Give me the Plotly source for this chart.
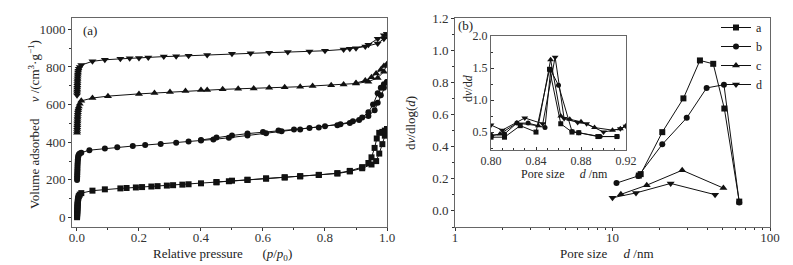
import plotly.graph_objects as go

W, H = 793, 265

# ---------------- Panel (a): N2 isotherms ----------------
LOW_P = [0.0003, 0.0005, 0.0007, 0.0009, 0.0011, 0.0013, 0.0015, 0.0017, 0.0019,
         0.0022, 0.0026, 0.003, 0.0036, 0.0045, 0.006, 0.009, 0.014]

a_ads_p = LOW_P + [0.05, 0.09, 0.14, 0.16, 0.19, 0.21, 0.24, 0.26, 0.29, 0.31, 0.34, 0.36,
                   0.40, 0.45, 0.49, 0.55, 0.61, 0.67, 0.72, 0.78, 0.84, 0.88, 0.92, 0.95,
                   0.965, 0.975, 0.985, 0.993, 1.0]
a_ads_v = [2, 10, 18, 26, 34, 42, 50, 58, 66, 74, 82, 90, 98, 106, 114, 122, 130,
           143, 150, 155, 157, 160, 162, 165, 167, 170, 172, 175, 177, 182, 187, 193, 200,
           207, 213, 219, 226, 234, 245, 262, 282, 300, 340, 390, 435, 470]
a_des_p = [1.0, 0.993, 0.985, 0.975, 0.967, 0.96, 0.95, 0.94, 0.92, 0.88, 0.84, 0.78,
           0.72, 0.67, 0.61, 0.55, 0.5, 0.45]
a_des_v = [470, 462, 455, 450, 420, 370, 320, 290, 268, 248, 236, 227, 220, 214, 208,
           201, 196, 189]

b_ads_p = LOW_P + [0.04, 0.09, 0.13, 0.18, 0.22, 0.27, 0.32, 0.36, 0.40, 0.44, 0.49, 0.55,
                   0.61, 0.66, 0.72, 0.78, 0.84, 0.88, 0.91, 0.94, 0.96, 0.97, 0.98, 0.99, 1.0]
b_ads_v = [200, 210, 220, 230, 240, 250, 260, 270, 280, 290, 300, 310, 320, 328, 335, 340, 345,
           358, 367, 373, 380, 385, 391, 398, 404, 410, 415, 424, 436, 448, 458, 468, 478,
           490, 502, 518, 540, 570, 610, 650, 690, 720]
b_des_p = [1.0, 0.99, 0.98, 0.97, 0.955, 0.94, 0.92, 0.89, 0.85, 0.8, 0.75, 0.7, 0.65, 0.6,
           0.55, 0.5, 0.45, 0.4]
b_des_v = [720, 708, 690, 660, 600, 560, 532, 512, 496, 485, 476, 468, 462, 455, 446, 436,
           425, 412]

c_ads_p = LOW_P + [0.05, 0.1, 0.2, 0.25, 0.3, 0.35, 0.4, 0.42, 0.47, 0.52, 0.57, 0.62, 0.67,
                   0.72, 0.76, 0.82, 0.86, 0.9, 0.94, 0.97, 0.99, 1.0]
c_ads_v = [450, 460, 470, 480, 490, 500, 510, 520, 530, 540, 550, 560, 570, 580, 590, 605, 620,
           635, 645, 657, 662, 667, 672, 677, 678, 681, 684, 686, 689, 692, 695, 699, 703,
           707, 712, 722, 742, 775, 815]
c_des_p = [1.0, 0.99, 0.98, 0.965, 0.95, 0.93, 0.9]
c_des_v = [815, 805, 785, 765, 745, 728, 715]

d_ads_p = LOW_P + [0.05, 0.09, 0.14, 0.17, 0.2, 0.23, 0.28, 0.32, 0.36, 0.42, 0.5, 0.56, 0.62,
                   0.68, 0.75, 0.8, 0.86, 0.88, 0.93, 0.97, 0.99, 1.0]
d_ads_v = [650, 660, 670, 680, 690, 700, 710, 720, 730, 740, 750, 760, 770, 780, 790, 800, 810,
           830, 838, 843, 846, 848, 850, 855, 857, 860, 864, 870, 873, 876, 879, 882, 886,
           893, 897, 908, 925, 950, 975]
d_des_p = [1.0, 0.99, 0.97, 0.94, 0.9]
d_des_v = [975, 968, 950, 918, 900]

# ---------------- Panel (b): pore size distribution ----------------
a_pore_d = [14.7, 15.1, 20.7, 28.2, 35.9, 43.6, 51.3, 63.8]
a_pore_v = [0.22, 0.229, 0.49, 0.70, 0.936, 0.915, 0.637, 0.058]
b_pore_d = [10.6, 14.6, 20.7, 29.6, 39.6, 51.0, 63.8]
b_pore_v = [0.173, 0.218, 0.414, 0.579, 0.765, 0.785, 0.052]
c_pore_d = [11.3, 16.5, 27.7, 50.6]
c_pore_v = [0.103, 0.16, 0.253, 0.142]
d_pore_d = [10.0, 14.1, 23.4, 44.8]
d_pore_v = [0.082, 0.112, 0.171, 0.101]

# inset (micropores)
a_in_d = [0.800, 0.812, 0.826, 0.840, 0.852, 0.862, 0.872, 0.878, 0.895, 0.912]
a_in_v = [0.42, 0.42, 0.60, 0.50, 1.48, 0.63, 0.50, 0.49, 0.43, 0.43]
b_in_d = [0.800, 0.812, 0.823, 0.833, 0.848, 0.853, 0.860, 0.872, 0.878, 0.897, 0.912]
b_in_v = [0.45, 0.47, 0.64, 0.64, 0.57, 1.47, 1.23, 0.51, 0.49, 0.43, 0.43]
c_in_d = [0.800, 0.808, 0.823, 0.842, 0.853, 0.862, 0.870, 0.880, 0.892, 0.908, 0.915, 0.920]
c_in_v = [0.44, 0.47, 0.64, 0.60, 1.63, 0.75, 0.70, 0.66, 0.57, 0.53, 0.55, 0.60]
d_in_d = [0.800, 0.810, 0.830, 0.846, 0.857, 0.865, 0.877, 0.885, 0.900, 0.915, 0.920]
d_in_v = [0.61, 0.53, 0.72, 0.63, 1.67, 0.71, 0.65, 0.63, 0.50, 0.55, 0.59]

names = ["a", "b", "c", "d"]
symbols = ["square", "circle", "triangle-up", "triangle-down"]
msize = [6, 6, 7, 7]

FONT = "Liberation Serif, Times New Roman, serif"
BLACK = "#111"

fig = go.Figure()

iso = [(a_ads_p, a_ads_v, a_des_p, a_des_v), (b_ads_p, b_ads_v, b_des_p, b_des_v),
       (c_ads_p, c_ads_v, c_des_p, c_des_v), (d_ads_p, d_ads_v, d_des_p, d_des_v)]
for i, (ap, av, dp, dv) in enumerate(iso):
    for xs, ys in ((ap, av), (dp, dv)):
        fig.add_trace(go.Scatter(x=xs, y=ys, mode="lines+markers", xaxis="x", yaxis="y",
                                 line=dict(color=BLACK, width=1),
                                 marker=dict(symbol=symbols[i], size=msize[i], color=BLACK),
                                 showlegend=False))

pores = [(a_pore_d, a_pore_v), (b_pore_d, b_pore_v), (c_pore_d, c_pore_v), (d_pore_d, d_pore_v)]
for i, (xs, ys) in enumerate(pores):
    fig.add_trace(go.Scatter(x=xs, y=ys, mode="lines+markers", xaxis="x2", yaxis="y2",
                             name=names[i], line=dict(color=BLACK, width=1),
                             marker=dict(symbol=symbols[i], size=msize[i], color=BLACK),
                             showlegend=True))

insets = [(a_in_d, a_in_v), (b_in_d, b_in_v), (c_in_d, c_in_v), (d_in_d, d_in_v)]
for i, (xs, ys) in enumerate(insets):
    fig.add_trace(go.Scatter(x=xs, y=ys, mode="lines+markers", xaxis="x3", yaxis="y3",
                             line=dict(color=BLACK, width=1),
                             marker=dict(symbol=symbols[i], size=msize[i] - 1, color=BLACK),
                             showlegend=False))


def px(x):
    return x / W


def py(y):
    return 1 - y / H


def axis_common(fs=13, ticks="outside", ticklen=3):
    return dict(showgrid=False, zeroline=False, showline=True, mirror=True,
                linecolor="#666", linewidth=1, ticks=ticks, ticklen=ticklen,
                tickcolor="#333", tickfont=dict(family=FONT, size=fs, color="#333"),
                automargin=False)


MINOR_OUT = dict(ticks="outside", ticklen=2, tickcolor="#333")
MINOR_IN = dict(ticks="inside", ticklen=2, tickcolor="#333")

fig.update_layout(
    width=W, height=H, template="none",
    margin=dict(l=0, r=0, t=0, b=0),
    paper_bgcolor="white", plot_bgcolor="white",
    font=dict(family=FONT, size=13, color="#222"),
    xaxis=dict(domain=[px(72), px(387)], range=[-0.016, 1.0], dtick=0.2, tickformat=".1f",
               minor=dict(dtick=0.1, **MINOR_OUT), ticklabelstandoff=-5,
               anchor="y", **axis_common()),
    yaxis=dict(domain=[py(227), py(18)], range=[-50, 1060], dtick=200,
               minor=dict(dtick=100, **MINOR_OUT),
               anchor="x", **axis_common()),
    xaxis2=dict(domain=[px(455), px(770)], type="log", range=[0, 2],
                tickvals=[1, 10, 100], ticktext=["1", "10", "100"], ticklabelstandoff=-5,
                minor=dict(tickvals=[2, 3, 4, 5, 6, 7, 8, 9, 20, 30, 40, 50, 60, 70, 80, 90],
                           **MINOR_OUT),
                anchor="y2", **axis_common()),
    yaxis2=dict(domain=[py(227), py(18)], range=[-0.1, 1.2], dtick=0.2, tickformat=".1f",
                minor=dict(dtick=0.1, **MINOR_OUT),
                anchor="x2", **axis_common()),
    xaxis3=dict(domain=[px(491), px(626)], range=[0.80, 0.92],
                tickvals=[0.80, 0.84, 0.88, 0.92], tickformat=".2f",
                minor=dict(dtick=0.01, **MINOR_IN),
                anchor="y3", **axis_common(12, "inside", 3)),
    yaxis3=dict(domain=[py(150), py(36)], range=[0.22, 2.0],
                tickvals=[0.5, 1.0, 1.5, 2.0], tickformat=".1f",
                minor=dict(dtick=0.25, **MINOR_IN),
                anchor="x3", **axis_common(12, "inside", 3)),
    legend=dict(x=px(716), y=py(13), xanchor="left", yanchor="top",
                bgcolor="rgba(0,0,0,0)", borderwidth=0,
                font=dict(family=FONT, size=12, color="#222"),
                tracegroupgap=0, itemwidth=30),
)

ann = [
    dict(x=px(34), y=py(125), text="Volume adsorbed&nbsp;&nbsp;&nbsp;&nbsp;&nbsp;<i>v</i> /(cm<sup>3</sup>·g<sup>−1</sup>)",
         textangle=-90, size=13),
    dict(x=px(222), y=py(254), text="Relative pressure&nbsp;&nbsp;&nbsp;&nbsp;&nbsp;&nbsp;(<i>p</i>/<i>p</i><sub>0</sub>)",
         textangle=0, size=13),
    dict(x=px(410), y=py(123), text="d<i>v</i>/dlog(<i>d</i>)", textangle=-90, size=13),
    dict(x=px(607), y=py(253), text="Pore size&nbsp;&nbsp;&nbsp;&nbsp;&nbsp;<i>d</i> /nm", textangle=0, size=13),
    dict(x=px(468), y=py(88), text="d<i>v</i>/d<i>d</i>", textangle=-90, size=12),
    dict(x=px(564), y=py(174), text="Pore size&nbsp;&nbsp;&nbsp;&nbsp;&nbsp;<i>d</i> /nm", textangle=0, size=12),
    dict(x=px(90), y=py(31), text="(a)", textangle=0, size=13),
    dict(x=px(465), y=py(26), text="(b)", textangle=0, size=13),
]
for a in ann:
    fig.add_annotation(x=a["x"], y=a["y"], xref="paper", yref="paper", text=a["text"],
                       showarrow=False, textangle=a["textangle"], xanchor="center",
                       yanchor="middle", font=dict(family=FONT, size=a["size"], color="#222"))

fig.write_html("out.html", config={"displayModeBar": False},
               post_script="document.body.style.margin='0';")
